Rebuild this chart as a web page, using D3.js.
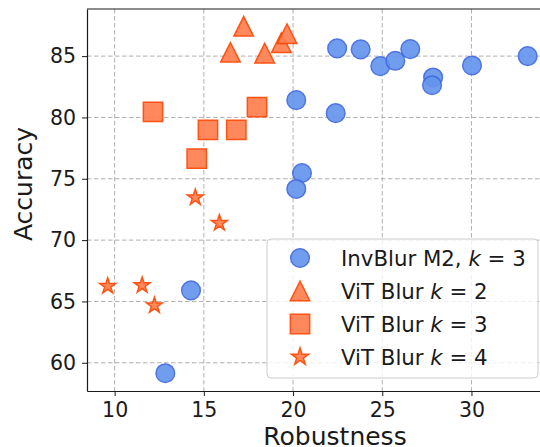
<!DOCTYPE html>
<html>
<head>
<meta charset="utf-8">
<script src="https://cdn.jsdelivr.net/npm/d3@7"></script>
<style>
  body { margin: 0; background: #fff; }
  text { font-family: "DejaVu Sans", sans-serif; fill: #1a1a1a; }
</style>
</head>
<body>
<div id="chart"></div>
<script>
// data
var invBlurX = [22.47, 23.79, 24.89, 25.73, 26.57, 27.85, 27.79, 30.03, 33.15, 20.18, 22.39, 20.50, 20.18, 14.28, 12.84];
var invBlurY = [85.63, 85.55, 84.18, 84.62, 85.57, 83.26, 82.63, 84.24, 85.00, 81.41, 80.35, 75.47, 74.17, 65.90, 59.15];
var vitK2X = [17.23, 16.49, 18.41, 19.34, 19.66];
var vitK2Y = [87.43, 85.31, 85.24, 86.09, 86.82];
var vitK3X = [12.15, 15.23, 16.82, 17.98, 14.60];
var vitK3Y = [80.45, 78.98, 78.98, 80.84, 76.65];
var vitK4X = [14.52, 15.87, 9.61, 11.54, 12.23];
var vitK4Y = [73.47, 71.39, 66.25, 66.31, 64.67];
var xTicks = [10, 15, 20, 25, 30];
var yTicks = [60, 65, 70, 75, 80, 85];
var legendNames = ["InvBlur M2, ", "ViT Blur ", "ViT Blur ", "ViT Blur "];
var legendK = ["3", "2", "3", "4"];

var margin = {top: 9, right: -8, bottom: 56, left: 87},
    width = 540 - margin.left - margin.right,
    height = 447 - margin.top - margin.bottom;

var svg = d3.select("#chart")
  .append("svg")
    .attr("width", 540)
    .attr("height", 447)
  .append("g")
    .attr("transform", "translate(" + margin.left + "," + margin.top + ")");

var x = d3.scaleLinear().domain([8.45, 34.29]).range([0, width]);
var y = d3.scaleLinear().domain([57.7, 88.84]).range([height, 0]);

// grid
svg.selectAll(".vgrid").data(xTicks).enter().append("line")
  .attr("x1", function(d) { return x(d); }).attr("x2", function(d) { return x(d); })
  .attr("y1", 0).attr("y2", height)
  .attr("stroke", "#b0b0b0").attr("stroke-width", 1).attr("stroke-dasharray", "4.5,2.5");
svg.selectAll(".hgrid").data(yTicks).enter().append("line")
  .attr("y1", function(d) { return y(d); }).attr("y2", function(d) { return y(d); })
  .attr("x1", 0).attr("x2", width)
  .attr("stroke", "#b0b0b0").attr("stroke-width", 1).attr("stroke-dasharray", "4.5,2.5");

// custom markers, matplotlib-like
var triangleUp = {
  draw: function(context, size) {
    var s = Math.sqrt(size) / 2;
    context.moveTo(0, -s);
    context.lineTo(-s, s);
    context.lineTo(s, s);
    context.closePath();
  }
};

function drawSeries(xs, ys, type, size, fill, stroke) {
  var pts = xs.map(function(v, i) { return {x: v, y: ys[i]}; });
  svg.append("g").selectAll("path").data(pts).enter().append("path")
    .attr("d", d3.symbol().type(type).size(size))
    .attr("transform", function(d) { return "translate(" + x(d.x) + "," + y(d.y) + ")"; })
    .attr("fill", fill)
    .attr("stroke", stroke)
    .attr("stroke-width", 1.5)
    .attr("opacity", 0.92);
}

var blueFill = "#6495ed", blueEdge = "#4169e1";
var orFill = "#ff7f50", orEdge = "#ff4500";

drawSeries(invBlurX, invBlurY, d3.symbolCircle, Math.PI * 9.3 * 9.3, blueFill, blueEdge);
drawSeries(vitK2X, vitK2Y, triangleUp, 19.5 * 19.5, orFill, orEdge);
drawSeries(vitK3X, vitK3Y, d3.symbolSquare, 19.3 * 19.3, orFill, orEdge);
drawSeries(vitK4X, vitK4Y, d3.symbolStar, 8.3 * 8.3 / 0.8908, orFill, orEdge);

// axes
var xAxis = svg.append("g")
  .attr("transform", "translate(0," + height + ")")
  .call(d3.axisBottom(x).tickValues(xTicks).tickSize(5).tickSizeOuter(0).tickPadding(6));
var yAxis = svg.append("g")
  .call(d3.axisLeft(y).tickValues(yTicks).tickSize(5).tickSizeOuter(0).tickPadding(6));
[xAxis, yAxis].forEach(function(a) {
  a.selectAll("text").style("font-size", "20.5px").attr("fill", "#1a1a1a");
  a.selectAll("line").attr("stroke", "#1a1a1a").attr("stroke-width", 1);
  a.select(".domain").attr("stroke", "#1a1a1a").attr("stroke-width", 1.2);
});
xAxis.selectAll("text").attr("dy", "0.72em");
// top and right spine
svg.append("line").attr("x1", 0).attr("x2", width).attr("y1", 0).attr("y2", 0)
  .attr("stroke", "#1a1a1a").attr("stroke-width", 1.2);
svg.append("line").attr("x1", width).attr("x2", width).attr("y1", 0).attr("y2", height)
  .attr("stroke", "#1a1a1a").attr("stroke-width", 1.2);

// axis labels
svg.append("text")
  .attr("x", 248).attr("y", height + 54)
  .attr("text-anchor", "middle")
  .style("font-size", "25px")
  .text("Robustness");
svg.append("text")
  .attr("transform", "translate(-55,175) rotate(-90)")
  .attr("text-anchor", "middle")
  .style("font-size", "25px")
  .text("Accuracy");

// legend
var lg = svg.append("g").attr("transform", "translate(" + (267 - margin.left) + "," + (239 - margin.top) + ")");
lg.append("rect")
  .attr("width", 271).attr("height", 139).attr("rx", 4)
  .attr("fill", "white").attr("fill-opacity", 0.8)
  .attr("stroke", "#cccccc").attr("stroke-width", 1);

var legendTypes = [d3.symbolCircle, triangleUp, d3.symbolSquare, d3.symbolStar];
var legendSizes = [Math.PI * 9.3 * 9.3, 19.5 * 19.5, 19.3 * 19.3, 9 * 9 / 0.8908];
var legendFill = [blueFill, orFill, orFill, orFill];
var legendEdge = [blueEdge, orEdge, orEdge, orEdge];

legendNames.forEach(function(name, i) {
  var row = lg.append("g").attr("transform", "translate(0," + (19 + i * 33) + ")");
  row.append("path")
    .attr("d", d3.symbol().type(legendTypes[i]).size(legendSizes[i]))
    .attr("transform", "translate(33,0)")
    .attr("fill", legendFill[i]).attr("stroke", legendEdge[i]).attr("stroke-width", 1.5)
    .attr("opacity", 0.92);
  var t = row.append("text")
    .attr("x", 74).attr("dy", "0.36em")
    .style("font-size", "21.3px");
  t.append("tspan").text(name);
  t.append("tspan").style("font-style", "italic").text("k");
  t.append("tspan").text(" = " + legendK[i]);
});
</script>
</body>
</html>
